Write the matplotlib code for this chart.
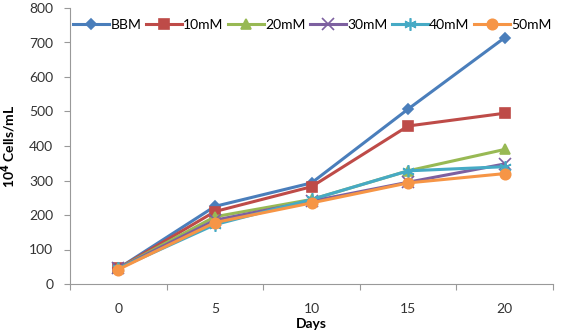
import numpy as np
import matplotlib
matplotlib.use('Agg')
import matplotlib.pyplot as plt

plt.rcParams['font.family'] = ['Lato', 'DejaVu Sans']

days = ['0', '5', '10', '15', '20']
series_names = ['BBM', '10mM', '20mM', '30mM', '40mM', '50mM']
bbm = [45, 225, 293, 507, 714]
mm10 = [45, 210, 282, 458, 495]
mm20 = [45, 195, 245, 328, 390]
mm30 = [45, 185, 240, 295, 348]
mm40 = [45, 172, 245, 328, 340]
mm50 = [42, 178, 235, 293, 320]

colors = ['#4A7EBB', '#BE4B48', '#98B954', '#7D60A0', '#46AAC5', '#F69546']
markers = ['D', 's', '^', 'x', (6, 2, 0), 'o']
msizes = [5, 7, 7.5, 8, 9, 7.5]

fig = plt.figure(figsize=(5.61, 3.36), dpi=100)
ax = fig.add_axes([70/561, 1-284/336, (553-70)/561, (284-8)/336])

x = np.arange(len(days))
for name, vals, c, m, ms in zip(series_names, [bbm, mm10, mm20, mm30, mm40, mm50], colors, markers, msizes):
    ax.plot(x, vals, color=c, lw=2.2, marker=m, ms=ms, mew=1.2, label=name)

ax.set_xlim(-0.5, len(days)-0.5)
ax.set_ylim(0, 800)
ax.set_yticks(np.arange(0, 801, 100))
ax.set_xticks(np.arange(-0.5, len(days), 1))
ax.set_xticklabels([])
ax.set_xticks(x, minor=True)
ax.set_xticklabels(days, minor=True)
ax.tick_params(axis='x', which='minor', length=0, pad=14, labelsize=10, colors='#333333')
ax.tick_params(axis='x', which='major', length=4, color='#999999', direction='out')
ax.tick_params(axis='y', length=4, color='#999999', labelsize=10, labelcolor='#333333', pad=8)
for s in ['top', 'right']:
    ax.spines[s].set_visible(False)
for s in ['left', 'bottom']:
    ax.spines[s].set_color('#999999')

ax.set_xlabel('Days', fontweight='bold', fontsize=10, labelpad=2)
ax.set_ylabel('10$^\\mathbf{4}$ Cells/mL', fontweight='bold', fontsize=10, labelpad=8)

ax.legend(loc='upper left', bbox_to_anchor=(-0.005, 0.98), ncol=6, frameon=False,
          fontsize=10, handlelength=2.6, columnspacing=0.3, handletextpad=0.1, borderaxespad=0)

fig.savefig('out.png', dpi=100)
